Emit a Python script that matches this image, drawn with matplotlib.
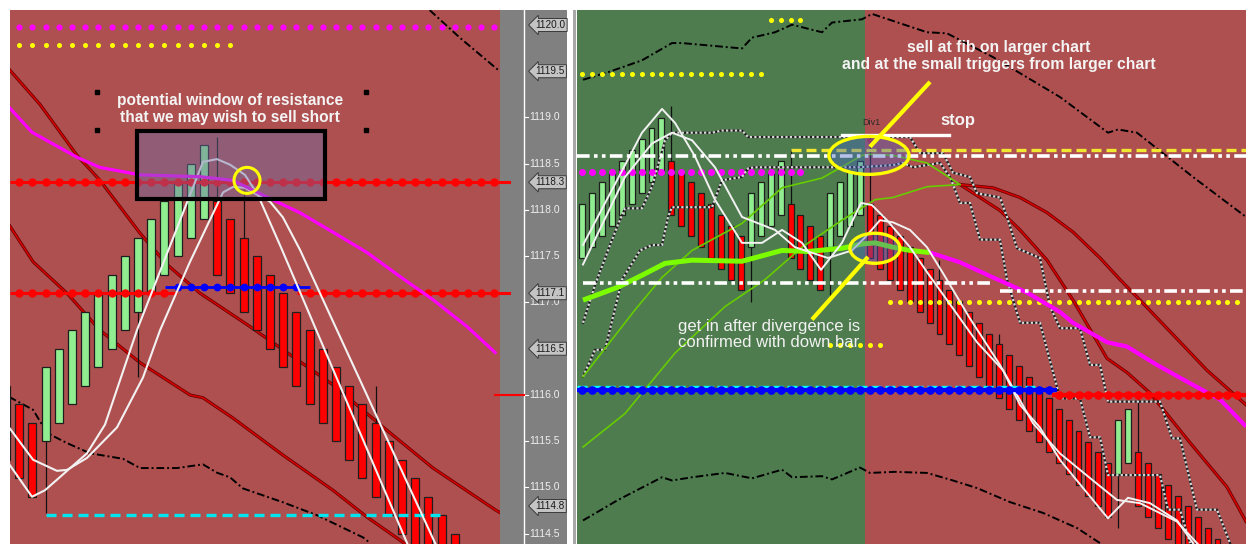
import matplotlib
matplotlib.use("Agg")
import matplotlib.pyplot as plt
import matplotlib.patheffects as pe
from matplotlib.patches import Rectangle, Ellipse
import numpy as np

plt.rcParams['font.family'] = ['Liberation Sans', 'DejaVu Sans']

# ======================= DATA : left chart =======================
L_open = [1116.1, 1115.9, 1115.7, 1115.5, 1115.7, 1115.9, 1116.1, 1116.3, 1116.5, 1116.7,
          1116.9, 1117.1, 1117.3, 1117.5, 1117.7, 1117.9, 1118.1, 1117.9, 1117.7, 1117.5,
          1117.3, 1117.1, 1116.9, 1116.7, 1116.5, 1116.3, 1116.1, 1115.9, 1115.7, 1115.5,
          1115.3, 1115.1, 1114.9, 1114.7, 1114.5]
L_close = [1115.3, 1115.1, 1114.9, 1116.3, 1116.5, 1116.7, 1116.9, 1117.1, 1117.3, 1117.5,
           1117.7, 1117.9, 1118.1, 1118.3, 1118.5, 1118.7, 1117.3, 1117.1, 1116.9, 1116.7,
           1116.5, 1116.3, 1116.1, 1115.9, 1115.7, 1115.5, 1115.3, 1115.1, 1114.9, 1114.7,
           1114.5, 1114.3, 1114.1, 1113.9, 1113.7]
L_wick_idx = [3, 10, 16, 18, 28]
L_wick_end = [1114.72, 1116.19, 1118.79, 1118.22, 1116.10]

L_ma_x = [0.3, 1.97, 5.38, 7.12, 10.15, 14.7, 17.2, 19.47, 22.27, 24.77, 27.35, 29.85, 32.35, 34.92, 37.05]
L_ma_y = [1119.10, 1118.84, 1118.57, 1118.46, 1118.38, 1118.36, 1118.32, 1118.16, 1117.97,
          1117.76, 1117.54, 1117.28, 1117.03, 1116.74, 1116.46]
L_envA_x = [0.3, 2.58, 5.38, 7.12, 10.15, 12.2, 14.7, 18.48, 24.77, 28.33, 32.35, 37.05, 37.4]
L_envA_y = [1119.51, 1119.14, 1118.59, 1118.32, 1117.75, 1117.41, 1117.10, 1116.74, 1116.11,
            1115.68, 1115.21, 1114.76, 1114.73]
L_envB_x = [0.23, 2.05, 4.62, 7.12, 10.15, 13.94, 14.92, 17.2, 20.98, 24.77, 27.35, 29.85, 30.23]
L_envB_y = [1117.84, 1117.44, 1117.10, 1116.70, 1116.35, 1116.00, 1115.97, 1115.75, 1115.35,
            1114.97, 1114.68, 1114.43, 1114.39]
L_band_lo_x = [0.23, 2.05, 3.11, 4.62, 6.36, 8.86, 10.15, 12.95, 14.92, 15.98, 16.97, 17.95,
               20.98, 23.56, 27.05, 27.58]
L_band_lo_y = [1115.98, 1115.84, 1115.59, 1115.48, 1115.37, 1115.31, 1115.21, 1115.21, 1115.25,
               1115.16, 1115.11, 1114.99, 1114.84, 1114.70, 1114.46, 1114.40]
L_band_hi_x = [32.1, 34.4, 37.4]
L_band_hi_y = [1120.16, 1119.86, 1119.50]
L_fast_x = [0.3, 1.97, 2.95, 6.14, 7.5, 8.64, 9.92, 12.42, 14.92, 15.98, 16.97, 18.1, 19.09, 20.91, 30.5]
L_fast_y = [1115.24, 1114.90, 1114.97, 1115.37, 1115.68, 1116.16, 1116.70, 1117.61, 1118.52,
            1118.55, 1118.49, 1118.38, 1118.16, 1117.57, 1114.36]
L_slow_x = [0.23, 2.05, 3.86, 4.62, 6.14, 8.41, 10.38, 11.67, 13.94, 16.44, 17.2, 18.1, 18.71,
            20.0, 20.98, 22.27, 32.6]
L_slow_y = [1115.65, 1115.30, 1115.18, 1115.19, 1115.32, 1115.65, 1116.19, 1116.70, 1117.44,
            1118.19, 1118.25, 1118.24, 1118.19, 1118.09, 1117.92, 1117.57, 1114.37]

L_res_hi = 1118.3
L_res_lo = 1117.1
L_blue_lvl = 1117.17
L_cyan_lvl = 1114.70
L_mag_dots = 1119.98
L_yel_dots = 1119.78
L_last_price = 1116.0

# price strip
tick_vals = [1119.0, 1118.5, 1118.0, 1117.5, 1117.0, 1116.0, 1115.5, 1115.0, 1114.5]
flag_vals = [1120.0, 1119.5, 1118.3, 1117.1, 1116.5, 1114.8]

# ======================= DATA : right chart =======================
R_open = [1117.9, 1118.0, 1118.1, 1118.2, 1118.3, 1118.4, 1118.5, 1118.6, 1118.7,
          1118.8, 1118.7, 1118.6, 1118.5, 1118.4, 1118.3, 1118.2, 1118.1,
          1118.0, 1118.1, 1118.2, 1118.3,
          1118.4, 1118.3, 1118.2, 1118.1,
          1118.0, 1118.1, 1118.2, 1118.3,
          1118.4, 1118.3, 1118.2, 1118.1, 1118.0, 1117.9, 1117.8, 1117.7, 1117.6, 1117.5,
          1117.4, 1117.3, 1117.2, 1117.1, 1117.0, 1116.9, 1116.8, 1116.7, 1116.6, 1116.5,
          1116.4, 1116.3, 1116.2, 1116.1, 1116.0,
          1115.9, 1116.0,
          1116.1, 1116.0, 1115.9, 1115.8, 1115.7, 1115.6, 1115.5, 1115.4, 1115.3]
R_close = [1118.4, 1118.5, 1118.6, 1118.7, 1118.8, 1118.9, 1119.0, 1119.1, 1119.2,
           1118.3, 1118.2, 1118.1, 1118.0, 1117.9, 1117.8, 1117.7, 1117.6,
           1118.5, 1118.6, 1118.7, 1118.8,
           1117.9, 1117.8, 1117.7, 1117.6,
           1118.5, 1118.6, 1118.7, 1118.8,
           1117.9, 1117.8, 1117.7, 1117.6, 1117.5, 1117.4, 1117.3, 1117.2, 1117.1, 1117.0,
           1116.9, 1116.8, 1116.7, 1116.6, 1116.5, 1116.4, 1116.3, 1116.2, 1116.1, 1116.0,
           1115.9, 1115.8, 1115.7, 1115.6, 1115.5,
           1116.4, 1116.5,
           1115.6, 1115.5, 1115.4, 1115.3, 1115.2, 1115.1, 1115.0, 1114.9, 1114.8]
R_wick_idx = [9, 17, 21, 25, 29, 36, 42, 54, 56]
R_wick_end = [1119.31, 1117.49, 1118.90, 1117.56, 1119.02, 1117.88, 1117.20, 1115.40, 1116.60]
R_shade_split = 28.5

R_up_x = [0.1, 2.62, 6.04, 9.06, 10.07, 16.11, 17.12, 19.44, 21.15, 24.17, 25.18, 28.2, 29.2,
          34.74, 36.76, 41.39, 48.14, 52.97, 53.98, 55.89, 61.53, 66.87]
R_up_y = [1119.55, 1119.62, 1119.73, 1119.89, 1119.89, 1119.84, 1119.94, 1119.99, 1120.06,
          1119.99, 1120.08, 1120.11, 1120.16, 1119.99, 1119.98, 1119.76, 1119.39, 1119.06,
          1119.09, 1119.06, 1118.65, 1118.28]
R_lo_x = [0.1, 3.63, 8.06, 9.06, 11.08, 14.4, 17.12, 20.14, 21.15, 24.17, 25.18, 27.99, 29.0,
          31.52, 34.74, 37.36, 39.78, 43.1, 46.42, 49.85, 52.17]
R_lo_y = [1115.47, 1115.66, 1115.87, 1115.84, 1115.87, 1115.91, 1115.86, 1115.94, 1115.87,
          1115.88, 1115.85, 1115.96, 1115.91, 1115.92, 1115.91, 1115.84, 1115.77, 1115.64,
          1115.54, 1115.40, 1115.26]
R_g1_x = [0.1, 5.34, 8.06, 11.08, 16.11, 20.14, 24.17, 28.2, 29.0, 31.32, 34.74, 38.07]
R_g1_y = [1116.80, 1117.42, 1117.72, 1117.97, 1118.22, 1118.55, 1118.64, 1118.85, 1118.86,
          1118.85, 1118.78, 1118.58]
R_r1_x = [38.07, 42.09, 44.11, 46.83, 49.45, 52.87, 54.88, 57.2, 61.23, 64.95, 66.87]
R_r1_y = [1118.58, 1118.34, 1118.16, 1117.88, 1117.51, 1116.97, 1116.84, 1116.65, 1116.19,
          1115.78, 1115.46]
R_g2_x = [0.1, 4.33, 9.37, 14.4, 18.43, 22.16, 26.18, 29.51, 31.32, 34.74, 38.07]
R_g2_y = [1116.15, 1116.46, 1117.02, 1117.45, 1117.70, 1118.00, 1118.25, 1118.44, 1118.46,
          1118.56, 1118.58]
R_r2_x = [38.07, 41.39, 44.11, 46.83, 49.45, 52.17, 54.18, 56.19, 59.52, 62.94, 66.87]
R_r2_y = [1118.58, 1118.55, 1118.46, 1118.32, 1118.14, 1117.90, 1117.70, 1117.51, 1117.19,
          1116.86, 1116.54]
R_tg_x = [0.1, 3.63, 6.04, 8.36, 11.08, 16.11, 20.14, 22.76, 26.18, 28.2, 29.51, 31.32, 33.03, 35.05]
R_tg_y = [1117.51, 1117.63, 1117.74, 1117.85, 1117.88, 1117.87, 1117.97, 1117.96, 1117.99,
          1118.03, 1118.04, 1118.00, 1117.97, 1117.95]
R_mg_x = [35.05, 38.07, 41.39, 44.81, 48.14, 49.45, 52.87, 54.88, 57.9, 61.23, 64.25, 66.87]
R_mg_y = [1117.95, 1117.86, 1117.72, 1117.58, 1117.40, 1117.30, 1117.12, 1117.08, 1116.91,
          1116.74, 1116.59, 1116.34]
R_wf_x = [0.1, 6.04, 8.06, 9.37, 11.38, 13.39, 16.11, 18.13, 20.14, 22.16, 24.07, 26.18, 28.1,
          29.2, 30.71, 33.03, 34.74, 36.76, 39.78, 42.4, 44.11, 46.12, 48.14, 52.97, 54.98,
          57.2, 59.92, 61.53]
R_wf_y = [1118.02, 1119.06, 1119.28, 1119.15, 1118.84, 1118.44, 1118.04, 1118.04, 1118.16,
          1118.04, 1117.79, 1118.04, 1118.41, 1118.39, 1118.25, 1118.00, 1117.77, 1117.51,
          1117.12, 1116.86, 1116.54, 1116.33, 1116.03, 1115.49, 1115.68, 1115.63, 1115.47, 1115.26]
R_ws_x = [0.1, 4.33, 7.05, 9.06, 11.08, 13.39, 16.11, 19.44, 21.45, 24.77, 27.19, 28.5, 30.01,
          31.32, 33.03, 34.74, 36.35, 39.07, 42.09, 45.42, 48.14, 51.46, 53.88, 56.19, 59.92, 62.03]
R_ws_y = [1117.84, 1118.65, 1118.96, 1119.06, 1118.99, 1118.74, 1118.28, 1118.16, 1118.00,
          1117.90, 1117.97, 1118.09, 1118.25, 1118.23, 1118.16, 1118.00, 1117.76, 1117.34,
          1116.91, 1116.37, 1116.09, 1115.84, 1115.66, 1115.63, 1115.46, 1115.25]
R_cu_x = [0.1, 1.31, 2.82, 3.63, 4.33, 6.04, 7.05, 8.36, 9.06, 10.37, 13.09, 14.1, 16.11, 16.72,
          33.03, 34.04, 36.35, 37.36, 39.07, 39.78, 42.09, 42.8, 43.81, 46.12, 47.13, 48.14,
          50.15, 51.16, 52.17, 52.97, 58.21, 59.42, 60.22, 61.93, 63.95, 65.26]
R_cu_y = [1117.30, 1117.65, 1118.02, 1118.21, 1118.36, 1118.36, 1118.56, 1118.99, 1119.06,
          1119.06, 1119.06, 1119.08, 1119.08, 1119.02, 1119.02, 1118.87, 1118.87, 1118.69,
          1118.65, 1118.50, 1118.46, 1118.28, 1117.99, 1117.90, 1117.45, 1117.25, 1117.25,
          1116.91, 1116.91, 1116.57, 1116.57, 1116.23, 1116.23, 1115.57, 1115.57, 1115.26]
R_cl_x = [0.1, 1.31, 2.32, 4.03, 5.84, 7.05, 8.06, 8.66, 9.06, 13.09, 14.1, 16.11, 16.72, 17.42,
          27.79, 31.32, 32.33, 33.33, 36.05, 37.06, 38.07, 39.07, 40.08, 42.09, 42.8, 44.11,
          46.12, 48.14, 50.15, 51.16, 52.17, 52.97, 58.21, 59.01, 60.22, 61.23]
R_cl_y = [1116.80, 1117.05, 1117.05, 1117.70, 1117.97, 1118.02, 1118.02, 1118.28, 1118.37,
          1118.37, 1118.62, 1118.65, 1118.73, 1118.74, 1118.74, 1118.76, 1118.78, 1118.74,
          1118.78, 1118.65, 1118.41, 1118.41, 1118.07, 1118.07, 1117.70, 1117.30, 1117.30,
          1116.60, 1116.60, 1116.24, 1116.24, 1115.89, 1115.89, 1115.57, 1115.57, 1115.26]

R_wd_top = 1118.84
R_wd_mid = 1117.67
R_wd_mid2 = 1117.59
R_ydash = 1118.90
R_stop = 1119.04
R_mag_dots = 1118.70
R_yel_dots_a = 1119.60
R_yel_dots_b = 1120.10
R_yel_dots_c = 1117.49
R_yel_dots_d = 1117.09
R_blue_lvl = 1116.68
R_cyan_lvl = 1116.71
R_red_lvl = 1116.63

# ======================= FIGURE =======================
W, H = 1246, 544
fig = plt.figure(figsize=(W / 100, H / 100), dpi=100, facecolor='white')
top = 1 - 10 / H
axL = fig.add_axes([10 / W, 0, 490 / W, top])
axS = fig.add_axes([500 / W, 0, 67 / W, top])
axR = fig.add_axes([577 / W, 0, 669 / W, top])
fig.add_artist(Rectangle((573 / W, 0), 3 / W, top, transform=fig.transFigure,
                         color='#A8A8A8', lw=0))

RED_BG = '#AF5050'
GREEN_BG = '#4E7C4E'

for ax in (axL, axS, axR):
    ax.set_xticks([]); ax.set_yticks([])
    for s in ax.spines.values():
        s.set_visible(False)

axL.set_facecolor(RED_BG)
axL.set_xlim(0.303, 37.424)
axL.set_ylim(1114.389, 1120.162)
axS.set_facecolor('#808080')
axS.set_xlim(0, 1)
axS.set_ylim(1114.389, 1120.162)
axR.set_facecolor(RED_BG)
axR.set_xlim(-0.504, 66.868)
axR.set_ylim(1115.252, 1120.196)
axR.axvspan(-0.504, R_shade_split, color=GREEN_BG, lw=0, zorder=0)


def darkred(ax, x, y, lw=1.1):
    ax.plot(x, y, color='#D80000', lw=lw, zorder=2,
            path_effects=[pe.Stroke(linewidth=lw + 1.2, foreground='#6A0000'), pe.Normal()])


def dashdot(ax, x, y):
    ax.plot(x, y, color='black', lw=1.4, dashes=(4, 1.5, 1, 1.5), zorder=2)


def draw_bars(ax, opens, closes, width, wick_idx, wick_end):
    o = np.array(opens); c = np.array(closes)
    idx = np.arange(len(o))
    cols = np.where(c > o, '#90EE90', '#FF0000')
    hi = np.maximum(o, c); lo = np.minimum(o, c)
    for k, e in zip(wick_idx, wick_end):
        edge = hi[k] if e > hi[k] else lo[k]
        ax.vlines(k, min(e, edge), max(e, edge), color='#111111', lw=0.9, zorder=2.9)
    ax.bar(idx, hi - lo, bottom=lo, width=width, color=cols, edgecolor='#1E1E1E',
           linewidth=0.9, zorder=3)


def level(ax, x0, x1, lvl, idxs, color, lw, ms, z=4):
    ax.plot([x0, x1], [lvl, lvl], color=color, lw=lw, zorder=z, solid_capstyle='butt')
    if len(idxs):
        ax.plot(idxs, [lvl] * len(idxs), 'o', color=color, ms=ms, lw=0, zorder=z)


def dots(ax, idxs, lvl, color, ms):
    ax.plot(idxs, [lvl] * len(idxs), 'o', color=color, ms=ms, lw=0, zorder=4)


def checkered(ax, x, y):
    ax.plot(x, y, color='#1E1E1E', lw=1.6, zorder=4)
    ax.plot(x, y, color='#D8D8D8', lw=1.6, ls=(0, (1, 1)), zorder=4.1)


# ---------------- left chart ----------------
darkred(axL, L_envA_x, L_envA_y)
darkred(axL, L_envB_x, L_envB_y)
dashdot(axL, L_band_lo_x, L_band_lo_y)
dashdot(axL, L_band_hi_x, L_band_hi_y)
draw_bars(axL, L_open, L_close, 0.62, L_wick_idx, L_wick_end)
axL.plot(L_fast_x, L_fast_y, color='#F2F2F2', lw=1.5, zorder=5)
axL.plot(L_slow_x, L_slow_y, color='#F2F2F2', lw=1.5, zorder=5)
axL.plot(L_ma_x, L_ma_y, color='#FF00FF', lw=2.3, zorder=5)
level(axL, 0.3, 37.42, L_res_hi, list(range(1, 38)), '#FF0000', 2.2, 5)
level(axL, 0.3, 12.95, L_res_lo, list(range(1, 13)), '#FF0000', 2.2, 5)
level(axL, 22.05, 37.42, L_res_lo, list(range(23, 38)), '#FF0000', 2.2, 5)
level(axL, 12.05, 23.03, L_blue_lvl, list(range(13, 23)), '#0000FF', 2.0, 4.6)
axL.plot([3.03, 32.88], [L_cyan_lvl] * 2, color='#00E5EE', lw=2.4, dashes=(3, 1.8), zorder=4)
dots(axL, list(range(1, 38)), L_mag_dots, '#FF00FF', 3.4)
dots(axL, list(range(1, 18)), L_yel_dots, '#FFFF00', 2.6)

axL.add_patch(Rectangle((9.92, 1118.12), 14.25, 0.73, fc=(110 / 255, 110 / 255, 165 / 255, 0.45),
                        ec='black', lw=3, zorder=6))
axL.add_patch(Ellipse((18.26, 1118.32), 1.97, 0.281, fc='none', ec='#FFFF00', lw=2.2, zorder=7))
axL.plot([6.89, 27.27, 6.89, 27.27], [1119.28, 1119.28, 1118.86, 1118.86], 's',
         color='black', ms=3.2, lw=0, zorder=7)
axL.text(16.97, 1119.09, "potential window of resistance\nthat we may wish to sell short",
         ha='center', va='center', fontsize=11.2, fontweight='bold', color='#F4F4F4',
         linespacing=1.15, zorder=8)

# ---------------- price strip ----------------
axS.axvline(0.358, color='white', lw=1.0, zorder=2)
for v in tick_vals:
    axS.plot([0.358, 0.42], [v, v], color='white', lw=0.8, zorder=2)
    axS.text(0.43, v, f"{v:.1f}", fontsize=7.5, color='#EEEEEE', va='center', ha='left', zorder=3)
for v in flag_vals:
    axS.text(0.53, v, f"{v:.1f}", fontsize=7.2, color='#1A1A1A', va='center', ha='left', zorder=4,
             bbox=dict(boxstyle='larrow,pad=0.15', fc='#C4C4C4', ec='#3A3A3A', lw=0.7))
axS.plot([0, 0.134], [L_res_hi] * 2, color='#FF0000', lw=2.2, zorder=3)
axS.plot([0, 0.134], [L_res_lo] * 2, color='#FF0000', lw=2.2, zorder=3)
axS.plot([-0.075, 0.358], [L_last_price] * 2, color='#FF0000', lw=1.5, zorder=3, clip_on=False)

# ---------------- right chart ----------------
dashdot(axR, R_up_x, R_up_y)
dashdot(axR, R_lo_x, R_lo_y)
draw_bars(axR, R_open, R_close, 0.6, R_wick_idx, R_wick_end)
checkered(axR, R_cu_x, R_cu_y)
checkered(axR, R_cl_x, R_cl_y)
axR.plot(R_g1_x, R_g1_y, color='#66CC00', lw=1.2, zorder=5)
axR.plot(R_g2_x, R_g2_y, color='#66CC00', lw=1.2, zorder=5)
darkred(axR, R_r1_x, R_r1_y)
darkred(axR, R_r2_x, R_r2_y)
axR.plot(R_tg_x, R_tg_y, color='#7CFC00', lw=3.6, zorder=5, solid_capstyle='butt')
axR.plot(R_mg_x, R_mg_y, color='#FF00FF', lw=3.0, zorder=5, solid_capstyle='butt')
axR.plot(R_wf_x, R_wf_y, color='#F2F2F2', lw=1.4, zorder=5)
axR.plot(R_ws_x, R_ws_y, color='#F2F2F2', lw=1.4, zorder=5)

wd = dict(color='white', lw=2.6, dashes=(3.5, 1.2, 1, 1.2, 1, 1.2), zorder=5)
axR.plot([-0.5, 66.87], [R_wd_top] * 2, **wd)
axR.plot([0.1, 41.39], [R_wd_mid] * 2, **wd)
axR.plot([42.09, 66.87], [R_wd_mid2] * 2, **wd)
axR.plot([21.05, 66.87], [R_ydash] * 2, color='#F0E830', lw=2.4, dashes=(3, 1.5), zorder=5)
dots(axR, list(range(0, 23)), R_mag_dots, '#FF00FF', 4.0)
dots(axR, list(range(0, 19)), R_yel_dots_a, '#FFFF00', 2.6)
dots(axR, list(range(19, 23)), R_yel_dots_b, '#FFFF00', 2.6)
dots(axR, list(range(31, 67)), R_yel_dots_c, '#FFFF00', 2.6)
dots(axR, list(range(25, 31)), R_yel_dots_d, '#FFFF00', 2.6)

axR.plot([-0.5, 46.12], [R_cyan_lvl] * 2, color='#00FFFF', lw=2.4, dashes=(3, 1.2), zorder=5)
level(axR, -0.5, 47.83, R_blue_lvl, list(range(0, 48)), '#0000FF', 3.0, 5.2, z=5)
level(axR, 47.3, 66.87, R_red_lvl, list(range(48, 67)), '#FF0000', 3.0, 5.2, z=5)

axR.plot([26.18, 36.96], [R_stop] * 2, color='white', lw=2.4, zorder=6)
axR.plot([29.0], [1118.97], marker='v', color='#C02040', ms=4, lw=0, zorder=6)
axR.add_patch(Ellipse((28.9, 1118.85), 8.06, 0.352, fc=(70 / 255, 100 / 255, 200 / 255, 0.4),
                      ec='#FFFF00', lw=2.4, zorder=7))
axR.add_patch(Ellipse((29.5, 1117.99), 5.04, 0.278, fc=(70 / 255, 100 / 255, 200 / 255, 0.4),
                      ec='#FFFF00', lw=2.4, zorder=7))
axR.plot([35.05, 29.0], [1119.53, 1118.93], color='#FFFF00', lw=3.0, zorder=7, solid_capstyle='butt')
axR.plot([23.16, 28.8], [1117.33, 1117.91], color='#FFFF00', lw=3.0, zorder=7, solid_capstyle='butt')

axR.text(41.99, 1119.77, "sell at fib on larger chart\nand at the small triggers from larger chart",
         ha='center', va='center', fontsize=11.3, fontweight='bold', color='#F4F4F4',
         linespacing=1.15, zorder=8)
axR.text(37.87, 1119.17, "stop", ha='center', va='center', fontsize=12, fontweight='bold',
         color='#F4F4F4', zorder=8)
axR.text(28.2, 1119.15, "Div1", ha='left', va='center', fontsize=6.5, color='#2A2A2A', zorder=8)
axR.text(9.67, 1117.19, "get in after divergence is\nconfirmed with down bar", ha='left',
         va='center', fontsize=12, color='#F2F2F2', linespacing=1.05, zorder=8)

fig.savefig('out.png', dpi=100, facecolor='white')
